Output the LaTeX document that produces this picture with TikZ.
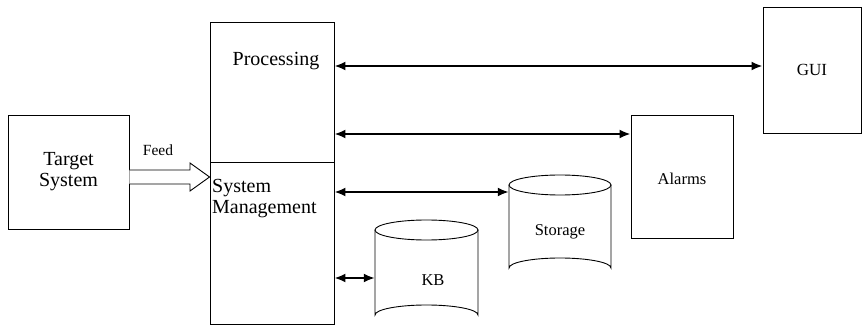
\documentclass[tikz,border=0pt]{standalone}
\usepackage{fontspec}
\setmainfont{Liberation Serif}
\usetikzlibrary{arrows.meta}
\begin{document}
\begin{tikzpicture}[x=1pt,y=-1pt,
  box/.style={draw, line width=0.9pt, inner sep=0pt},
  link/.style={line width=2pt, {Latex[length=11pt,width=9pt]}-{Latex[length=11pt,width=9pt]}},
  big/.style={font=\fontsize{20}{23}\selectfont},
  small/.style={font=\fontsize{16.5}{19}\selectfont},
  tiny/.style={font=\fontsize{15.5}{18}\selectfont},
  cyl/.style={draw, line width=0.9pt, fill=white}]
\useasboundingbox (0,0) rectangle (863,326);
% Target system
\node[box, minimum width=121pt, minimum height=114pt, align=center, big] (target) at (68.5,172) {Target\\[-2pt]System};
% Core box
\node[box, minimum width=124pt, minimum height=140pt] (proc) at (272,92) {};
\node[box, minimum width=124pt, minimum height=162pt] (sysm) at (272,243) {};
\node[big, anchor=center] (proclbl) at (276,61) {Processing};
\node[big, anchor=north west, align=left, inner sep=0pt] (sysmlbl) at (212,179) {System\\[-2pt]Management};
% Feed arrow
\draw[line width=0.9pt, fill=white] (target.east |- 0,170) -- (190,170) -- (190,163) -- (sysm.west |- 0,177) -- (190,191) -- (190,184) -- (target.east |- 0,184);
\node[tiny] (feed) at (158,150) {Feed};
% GUI
\node[box, minimum width=98pt, minimum height=126pt, font=\fontsize{17}{20}\selectfont] (gui) at (812,70) {GUI};
% Alarms
\node[box, minimum width=102pt, minimum height=123pt] (alarms) at (682,176.5) {};
\node[small] (alarmslbl) at (682,179) {Alarms};
% Storage cylinder
\draw[cyl] (509,185) -- (509,268) arc[start angle=180, end angle=360, x radius=51, y radius=10] -- (611,185);
\draw[cyl] (560,185) ellipse[x radius=51, y radius=10];
\node[minimum width=102pt, minimum height=103pt, inner sep=0pt] (storage) at (560,226.5) {};
\node[small] (storagelbl) at (560,232) {Storage};
% KB cylinder
\draw[cyl] (375,230) -- (375,315) arc[start angle=180, end angle=360, x radius=51.5, y radius=10] -- (478,230);
\draw[cyl] (426.5,230) ellipse[x radius=51.5, y radius=10];
\node[minimum width=103pt, minimum height=105pt, inner sep=0pt] (kb) at (426.5,272.5) {};
\node[small] (kblbl) at (433,280) {KB};
% Connectors
\draw[link] (proc.east |- 0,66) -- (gui.west |- 0,66);
\draw[link] (proc.east |- 0,134) -- (alarms.west |- 0,134);
\draw[link] (sysm.east |- 0,192) -- (storage.west |- 0,192);
\draw[link] (sysm.east |- 0,278) -- (kb.west |- 0,278);
\end{tikzpicture}
\end{document}
